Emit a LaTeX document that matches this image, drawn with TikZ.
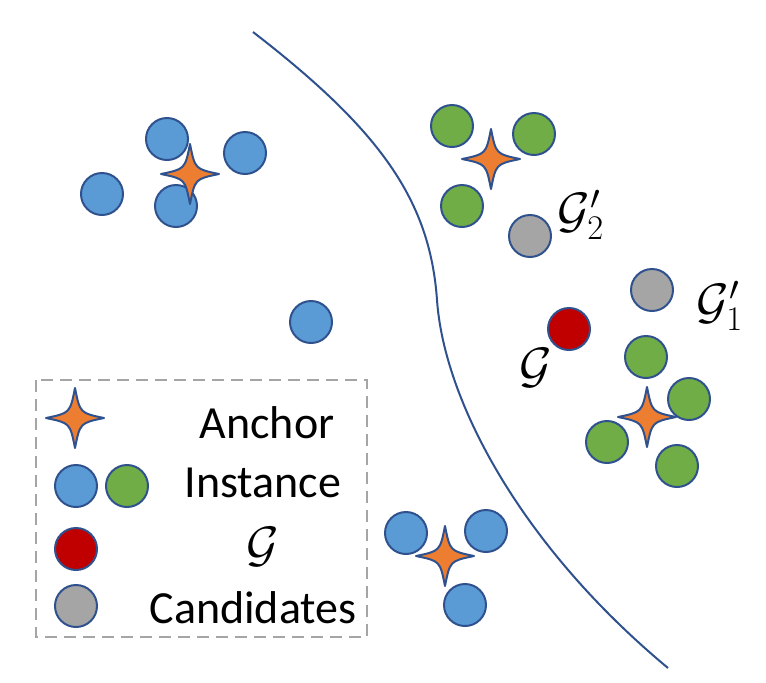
\documentclass[tikz,border=0pt]{standalone}
\usepackage{fontspec}
\setmainfont{Carlito}
\usepackage{tikz}

\definecolor{instblue}{HTML}{5B9BD5}
\definecolor{instgreen}{HTML}{70AD47}
\definecolor{anchororange}{HTML}{ED7D31}
\definecolor{queryred}{HTML}{C00000}
\definecolor{candgray}{HTML}{A5A5A5}
\definecolor{edgeblue}{HTML}{2F528F}

\tikzset{
  blueinst/.style={fill=instblue, draw=edgeblue, line width=1pt},
  greeninst/.style={fill=instgreen, draw=edgeblue, line width=1pt},
  queryinst/.style={fill=queryred, draw=edgeblue, line width=1pt},
  candinst/.style={fill=candgray, draw=edgeblue, line width=1pt},
  anchorshape/.style={fill=anchororange, draw=edgeblue, line width=1pt, line join=round},
  lbl/.style={font=\fontsize{23}{27}\selectfont, inner sep=0pt},
}
\newcommand{\anchorstar}[1]{%
  \filldraw[anchorshape, shift={(#1)}] (29,0) .. controls (5,-5) .. (0,-30)
    .. controls (-5,-5) .. (-29,0) .. controls (-5,5) .. (0,30)
    .. controls (5,5) .. cycle;}
\newcommand{\rad}{10.5pt}

\begin{document}
\begin{tikzpicture}[x=0.5pt, y=-0.5pt]
\useasboundingbox (0,0) rectangle (766,682);
%\draw[help lines, color=gray!30, dashed] (0,0) grid[step=50] (766,682);
% boundary
\draw[edgeblue, line width=1pt] (253,32) .. controls (380,130) and (430,200) .. (437,300)
  .. controls (444,400) and (520,545) .. (668,668);
% top left cluster
\filldraw[blueinst] (167,139) circle (\rad);
\filldraw[blueinst] (245,153) circle (\rad);
\filldraw[blueinst] (102,194) circle (\rad);
\filldraw[blueinst] (176,206) circle (\rad);
\anchorstar{190,174}
% lone instance
\filldraw[blueinst] (311,322) circle (\rad);
% bottom cluster
\filldraw[blueinst] (406,533) circle (\rad);
\filldraw[blueinst] (486,531) circle (\rad);
\filldraw[blueinst] (465,605) circle (\rad);
\anchorstar{445,556}
% upper right cluster
\filldraw[greeninst] (452,126) circle (\rad);
\filldraw[greeninst] (534,134) circle (\rad);
\filldraw[greeninst] (462,206) circle (\rad);
\anchorstar{491,159}
\filldraw[candinst] (530,236) circle (\rad);
\node[lbl] (g2) at (581,215) {$\mathcal{G}'_2$};
% lower right cluster
\filldraw[candinst] (652,290) circle (\rad);
\node[lbl] (g1) at (720,306) {$\mathcal{G}'_1$};
\filldraw[queryinst] (569,329) circle (\rad);
\node[lbl] (g) at (536,368) {$\mathcal{G}$};
\filldraw[greeninst] (646,357) circle (\rad);
\filldraw[greeninst] (689,399) circle (\rad);
\filldraw[greeninst] (607,442) circle (\rad);
\filldraw[greeninst] (677,466) circle (\rad);
\anchorstar{647,417}
% legend
\draw[candgray, line width=1.3pt, dash pattern=on 6pt off 3.5pt] (36,380) rectangle (367,637);
\anchorstar{75,418}
\node[lbl] (lanchor) at (267,423) {Anchor};
\filldraw[blueinst] (76,486) circle (\rad);
\filldraw[greeninst] (127,486) circle (\rad);
\node[lbl] (linst) at (263,483) {Instance};
\filldraw[queryinst] (76,549) circle (\rad);
\node[lbl] (lquery) at (263,547) {$\mathcal{G}$};
\filldraw[candinst] (76,606) circle (\rad);
\node[lbl] (lcand) at (253,608) {Candidates};
\end{tikzpicture}
\end{document}
